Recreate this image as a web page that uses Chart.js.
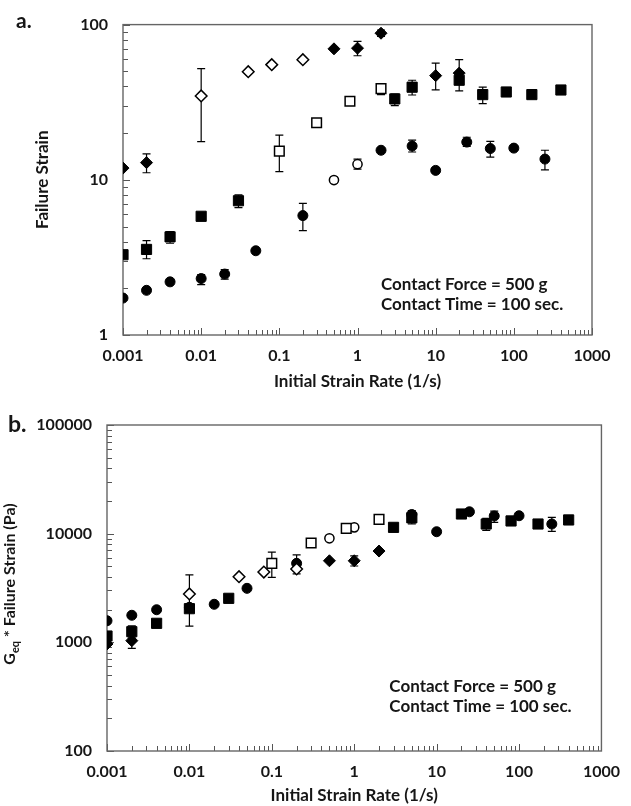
<!DOCTYPE html>
<html lang="en">
<head>
<meta charset="UTF-8">
<script src="https://cdn.jsdelivr.net/npm/chart.js@4"></script>
<title>Failure Strain vs Initial Strain Rate</title>
<style>
  body { margin: 0; background: #fff; }
  canvas { display: block; }
</style>
</head>
<body>
<canvas id="chartA" width="631" height="400"></canvas>
<canvas id="chartB" width="631" height="406"></canvas>
<script>
// ---- axis ticks ----
const rateTicks = [0.001, 0.01, 0.1, 1, 10, 100, 1000]
const rateTickLabels = ['0.001', '0.01', '0.1', '1', '10', '100', '1000']
const strainTicks = [1, 10, 100]
const strainTickLabels = ['1', '10', '100']
const stressTicks = [100, 1000, 10000, 100000]
const stressTickLabels = ['100', '1000', '10000', '100000']

// ---- panel a: failure strain ----
// filled diamonds
const rateA_fd = [0.001, 0.002, 0.5, 1, 2, 10, 20]
const strainA_fd = [11.9, 12.9, 69.8, 70.5, 88, 46.9, 48.7]
const loA_fd = [null, 11.1, null, 63, 84, 38, 37.4]
const hiA_fd = [null, 14.7, null, 78, 92, 56.5, 59.4]
// open diamonds
const rateA_od = [0.01, 0.04, 0.08, 0.2]
const strainA_od = [34.7, 49.7, 55.2, 59.4]
const loA_od = [17.6, null, null, null]
const hiA_od = [52, null, null, null]
// filled squares
const rateA_fs = [0.001, 0.002, 0.004, 0.01, 0.03, 3, 5, 20, 40, 80, 170, 400]
const strainA_fs = [3.29, 3.56, 4.29, 5.82, 7.33, 33.2, 39.5, 43.8, 35.4, 36.8, 35.4, 37.9]
const loA_fs = [null, 3.1, 3.9, null, 6.62, 30.1, 35.2, null, 31, 35.3, null, null]
const hiA_fs = [null, 4.05, 4.64, null, 8.0, 35.7, 43.8, null, 39.6, 38.3, null, null]
// open squares
const rateA_os = [0.1, 0.3, 0.8, 2]
const strainA_os = [15.3, 23.3, 32.1, 38.7]
const loA_os = [11.3, null, null, 35.4]
const hiA_os = [19.4, null, null, 41.4]
// filled circles
const rateA_fc = [0.001, 0.002, 0.004, 0.01, 0.02, 0.05, 0.2, 2, 5, 10, 25, 50, 100, 250]
const strainA_fc = [1.73, 1.94, 2.20, 2.31, 2.47, 3.49, 5.88, 15.5, 16.5, 11.5, 17.5, 15.9, 16.0, 13.6]
const loA_fc = [null, null, null, 2.11, 2.29, null, 4.71, null, 15.1, null, 16.4, 14, null, 11.6]
const hiA_fc = [null, null, null, 2.45, 2.64, null, 7.05, null, 18, null, 18.8, 17.7, null, 15.5]
// open circles
const rateA_oc = [0.5, 1]
const strainA_oc = [9.96, 12.6]
const loA_oc = [null, 11.7]
const hiA_oc = [null, 13.6]

// ---- panel b: Geq * failure strain (Pa) ----
const rateB_fd = [0.001, 0.002, 0.5, 1, 2]
const stressB_fd = [966, 1036, 5630, 5630, 6920]
const loB_fd = [null, 880, null, 5040, null]
const hiB_fd = [null, 1120, null, 6240, null]

const rateB_od = [0.01, 0.04, 0.08, 0.2]
const stressB_od = [2790, 4020, 4436, 4730]
const loB_od = [1410, null, null, null]
const hiB_od = [4170, null, null, null]

const rateB_fs = [0.001, 0.002, 0.004, 0.01, 0.03, 3, 5, 20, 40, 80, 170, 400]
const stressB_fs = [1143, 1253, 1496, 2040, 2541, 11430, 14000, 15170, 12270, 13090, 12270, 13370]
const loB_fs = [null, 1090, null, null, null, null, 12300, null, 10700, null, null, null]
const hiB_fs = [null, 1420, null, null, null, null, 15400, null, 13800, null, null, null]

const rateB_os = [0.1, 0.3, 0.8, 2]
const stressB_os = [5330, 8200, 11190, 13550]
const loB_os = [3960, null, null, 12800]
const hiB_os = [6770, null, null, 14600]

const rateB_fc = [0.001, 0.002, 0.004, 0.01, 0.02, 0.05, 0.2, 5, 10, 25, 50, 100, 250]
const stressB_fc = [1580, 1774, 1995, 2100, 2239, 3140, 5330, 15000, 10420, 15900, 14550, 14620, 12270]
const loB_fc = [null, null, null, null, null, null, 4270, 13700, null, null, 12700, null, 10500]
const hiB_fc = [null, null, null, null, null, null, 6390, 16300, null, null, 16100, null, 14100]

const rateB_oc = [0.5, 1]
const stressB_oc = [9060, 11430]
const loB_oc = [null, null]
const hiB_oc = [null, null]

const notes = ['Contact Force = 500 g', 'Contact Time = 100 sec.']

// ---- styles ----
const FONT = 'Lato, "Open Sans", sans-serif'
const INK = '#161616'
const styles = {
    fd: { pointStyle: 'rectRot', pointRadius: 6, backgroundColor: '#000', borderColor: '#000', borderWidth: 1 },
    od: { pointStyle: 'rectRot', pointRadius: 5.8, backgroundColor: '#fff', borderColor: '#000', borderWidth: 1.5 },
    fs: { pointStyle: 'rect', pointRadius: 7.2, backgroundColor: '#000', borderColor: '#000', borderWidth: 1 },
    os: { pointStyle: 'rect', pointRadius: 6.8, backgroundColor: '#fff', borderColor: '#000', borderWidth: 1.5 },
    fc: { pointStyle: 'circle', pointRadius: 5, backgroundColor: '#000', borderColor: '#000', borderWidth: 1 },
    oc: { pointStyle: 'circle', pointRadius: 4.6, backgroundColor: '#fff', borderColor: '#000', borderWidth: 1.5 }
}

function makeSet(xs, ys, lo, hi, st) {
    return Object.assign({
        data: xs.map((x, i) => ({ x: x, y: ys[i] })),
        errLo: lo,
        errHi: hi,
        showLine: false
    }, st, { pointHoverRadius: st.pointRadius })
}

// frame, inside log ticks, error bars, panel letter and notes
function makeDeco(cfg) {
    return {
        id: 'deco',
        beforeDatasetsDraw(chart) {
            const ctx = chart.ctx
            const area = chart.chartArea
            const xs = chart.scales.x, ys = chart.scales.y
            ctx.save()
            // error bars
            ctx.strokeStyle = '#000'
            ctx.lineWidth = 1.2
            chart.data.datasets.forEach((ds) => {
                ds.data.forEach((p, i) => {
                    if (ds.errLo[i] == null) return
                    const px = xs.getPixelForValue(p.x)
                    const y1 = ys.getPixelForValue(ds.errLo[i])
                    const y2 = ys.getPixelForValue(ds.errHi[i])
                    ctx.beginPath()
                    ctx.moveTo(px, y1); ctx.lineTo(px, y2)
                    ctx.moveTo(px - 4, y1); ctx.lineTo(px + 4, y1)
                    ctx.moveTo(px - 4, y2); ctx.lineTo(px + 4, y2)
                    ctx.stroke()
                })
            })
            // ticks inside the plot
            ctx.strokeStyle = '#555'
            ctx.lineWidth = 1
            ctx.beginPath()
            logTicks(xs).forEach(([v, major]) => {
                const p = Math.round(xs.getPixelForValue(v)) + 0.5
                ctx.moveTo(p, area.bottom); ctx.lineTo(p, area.bottom - (major ? 7 : 5))
            })
            logTicks(ys).forEach(([v, major]) => {
                const p = Math.round(ys.getPixelForValue(v)) + 0.5
                ctx.moveTo(area.left, p); ctx.lineTo(area.left + (major ? 7 : 5), p)
            })
            ctx.stroke()
            // frame
            ctx.strokeStyle = '#656565'
            ctx.lineWidth = 1.4
            ctx.strokeRect(area.left, area.top, area.right - area.left, area.bottom - area.top)
            ctx.restore()
        },
        afterDraw(chart) {
            const ctx = chart.ctx
            const xs = chart.scales.x, ys = chart.scales.y
            ctx.save()
            ctx.fillStyle = INK
            ctx.textBaseline = 'middle'
            ctx.textAlign = 'left'
            ctx.font = 'bold ' + cfg.letterSize + 'px ' + FONT
            ctx.fillText(cfg.letter, cfg.letterX, cfg.letterY)
            ctx.font = 'bold 17px ' + FONT
            const nx = xs.getPixelForValue(cfg.noteRate)
            const ny = ys.getPixelForValue(cfg.noteValue)
            notes.forEach((t, i) => ctx.fillText(t, nx, ny + i * 20))
            if (cfg.geqTitle) {
                // rotated y title with subscript
                const area = chart.chartArea
                ctx.translate(cfg.geqTitle, (area.top + area.bottom) / 2 - 4)
                ctx.rotate(-Math.PI / 2)
                const big = 'bold 16px ' + FONT, small = 'bold 11px ' + FONT
                const rest = ' * Failure Strain (Pa)'
                ctx.font = big
                const wG = ctx.measureText('G').width
                const wR = ctx.measureText(rest).width
                ctx.font = small
                const wS = ctx.measureText('eq').width
                let x = -(wG + wS + wR) / 2
                ctx.font = big
                ctx.fillText('G', x, 0); x += wG
                ctx.font = small
                ctx.fillText('eq', x, 5.5); x += wS
                ctx.font = big
                ctx.fillText(rest, x, 0)
            }
            ctx.restore()
        }
    }
}

function logTicks(scale) {
    const out = []
    const lo = Math.round(Math.log10(scale.min)), hi = Math.round(Math.log10(scale.max))
    for (let d = lo; d <= hi; d++) {
        for (let k = 1; k < 10; k++) {
            if (d === hi && k > 1) break
            out.push([k * Math.pow(10, d), k === 1])
        }
    }
    return out
}

function axis(min, max, tickVals, tickLabels, extra) {
    return Object.assign({
        type: 'logarithmic',
        min: min,
        max: max,
        grid: { display: false, drawTicks: false },
        border: { display: false },
        afterBuildTicks: (s) => { s.ticks = tickVals.map(v => ({ value: v })) },
        ticks: {
            autoSkip: false,
            maxRotation: 0,
            color: INK,
            font: { family: FONT, weight: 'bold', size: 16 },
            callback: (v) => tickLabels[tickVals.indexOf(v)]
        }
    }, extra)
}

function createChart(id, datasets, yAxis, xTitlePad, yWidth, xHeight, padding, cfg) {
    const xAxis = axis(0.001, 1000, rateTicks, rateTickLabels, {
        title: { display: true, text: 'Initial Strain Rate (1/s)', color: INK,
            font: { family: FONT, weight: 'bold', size: 17 }, padding: { top: 0, bottom: xTitlePad } },
        afterFit: (s) => { s.height = xHeight }
    })
    xAxis.ticks.padding = 11
    yAxis.afterFit = (s) => { s.width = yWidth }
    yAxis.ticks.padding = 15
    return new Chart(document.getElementById(id), {
        type: 'scatter',
        data: { datasets: datasets },
        options: {
            responsive: false,
            animation: false,
            devicePixelRatio: 1,
            layout: { padding: padding },
            plugins: { legend: { display: false }, tooltip: { enabled: false } },
            scales: { x: xAxis, y: yAxis }
        },
        plugins: [makeDeco(cfg)]
    })
}

createChart('chartA', [
    makeSet(rateA_fs, strainA_fs, loA_fs, hiA_fs, styles.fs),
    makeSet(rateA_fd, strainA_fd, loA_fd, hiA_fd, styles.fd),
    makeSet(rateA_od, strainA_od, loA_od, hiA_od, styles.od),
    makeSet(rateA_os, strainA_os, loA_os, hiA_os, styles.os),
    makeSet(rateA_fc, strainA_fc, loA_fc, hiA_fc, styles.fc),
    makeSet(rateA_oc, strainA_oc, loA_oc, hiA_oc, styles.oc)
], axis(1, 100, strainTicks, strainTickLabels, {
    title: { display: true, text: 'Failure Strain', color: INK,
        font: { family: FONT, weight: 'bold', size: 17 }, padding: { top: 32, bottom: 0 } }
}), 8, 123, 65, { top: 23, right: 39, left: 0, bottom: 0 },
    { letter: 'a.', letterSize: 21, letterX: 16, letterY: 21, noteRate: 2, noteValue: 2.12 })

createChart('chartB', [
    makeSet(rateB_fs, stressB_fs, loB_fs, hiB_fs, styles.fs),
    makeSet(rateB_fd, stressB_fd, loB_fd, hiB_fd, styles.fd),
    makeSet(rateB_od, stressB_od, loB_od, hiB_od, styles.od),
    makeSet(rateB_os, stressB_os, loB_os, hiB_os, styles.os),
    makeSet(rateB_fc, stressB_fc, loB_fc, hiB_fc, styles.fc),
    makeSet(rateB_oc, stressB_oc, loB_oc, hiB_oc, styles.oc)
], axis(100, 100000, stressTicks, stressTickLabels, {}),
    0, 107, 55, { top: 25, right: 18, left: 0, bottom: 0 },
    { letter: 'b.', letterSize: 23, letterX: 8, letterY: 25, noteRate: 2.67, noteValue: 388, geqTitle: 10 })
</script>
</body>
</html>
